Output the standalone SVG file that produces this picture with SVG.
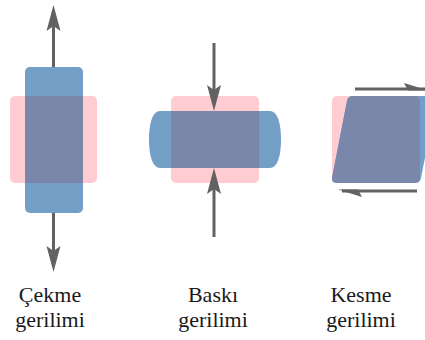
<svg xmlns="http://www.w3.org/2000/svg" width="425" height="340" viewBox="0 0 425 340">
  <style>
    .ref { fill: #FFCCD1; }
    .body { fill: #739EC6; }
    .both { fill: #7A86AA; }
    .shaft { stroke: #626262; stroke-width: 3; fill: none; }
    .head { fill: #626262; }
    .label { font-family: 'Liberation Serif', Tinos, 'Times New Roman', 'DejaVu Serif', serif; font-size: 22px; fill: #1a1a1a; text-anchor: middle; }
  </style>
  <defs>
    <clipPath id="clipA"><rect x="10" y="96" width="87" height="87" rx="5"/></clipPath>
    <clipPath id="clipB"><rect x="171" y="96" width="88" height="87" rx="5"/></clipPath>
    <clipPath id="clipC"><rect x="332" y="96" width="88" height="87" rx="5"/></clipPath>
  </defs>
  <rect width="425" height="340" fill="#ffffff"/>

  <!-- tension: stretched body over the undeformed square -->
  <g id="tension">
    <rect class="ref" x="10" y="96" width="87" height="87" rx="5"/>
    <rect class="body" x="25" y="67" width="58" height="146" rx="5"/>
    <rect class="both" x="25" y="67" width="58" height="146" rx="5" clip-path="url(#clipA)"/>
    <text class="label" x="50" y="302" font-family="Liberation Serif, serif">Çekme</text>
    <text class="label" x="50" y="327" font-family="Liberation Serif, serif">gerilimi</text>
  </g>

  <!-- compression: squashed, bulging body -->
  <g id="compression">
    <rect class="ref" x="171" y="96" width="88" height="87" rx="5"/>
    <path class="body" d="M160,111 H270 C278,111 281,125 281,139.5 C281,154 278,168 270,168 H160 C152,168 149,154 149,139.5 C149,125 152,111 160,111 Z"/>
    <path class="both" clip-path="url(#clipB)" d="M160,111 H270 C278,111 281,125 281,139.5 C281,154 278,168 270,168 H160 C152,168 149,154 149,139.5 C149,125 152,111 160,111 Z"/>
    <text class="label" x="213" y="302" font-family="Liberation Serif, serif">Baskı</text>
    <text class="label" x="213" y="327" font-family="Liberation Serif, serif">gerilimi</text>
  </g>

  <!-- shear: body skewed into a parallelogram -->
  <g id="shear">
    <rect class="ref" x="332" y="96" width="88" height="87" rx="5"/>
    <path class="body" d="M353,96 H431 Q437,96 436,101 L421,178 Q420,183 415,183 H337 Q331,183 332,178 L347,101 Q348,96 353,96 Z"/>
    <path class="both" clip-path="url(#clipC)" d="M353,96 H431 Q437,96 436,101 L421,178 Q420,183 415,183 H337 Q331,183 332,178 L347,101 Q348,96 353,96 Z"/>
    <text class="label" x="361" y="302" font-family="Liberation Serif, serif">Kesme</text>
    <text class="label" x="361" y="327" font-family="Liberation Serif, serif">gerilimi</text>
  </g>

  <g id="connectors">
    <!-- tension: pulling outward -->
    <line class="shaft" x1="53.5" y1="67" x2="53.5" y2="26"/>
    <path class="head" d="M53.5,5 L60.5,31 L53.5,26 L46.5,31 Z"/>
    <line class="shaft" x1="53.5" y1="213" x2="53.5" y2="251"/>
    <path class="head" d="M53.5,272 L60.5,246 L53.5,251 L46.5,246 Z"/>
    <!-- compression: pushing inward -->
    <line class="shaft" x1="214" y1="43" x2="214" y2="90"/>
    <path class="head" d="M214,111 L221,85 L214,90 L207,85 Z"/>
    <line class="shaft" x1="214" y1="237" x2="214" y2="189"/>
    <path class="head" d="M214,168 L221,194 L214,189 L207,194 Z"/>
    <!-- shear: opposing half-arrows -->
    <line class="shaft" x1="355" y1="89" x2="430" y2="89"/>
    <path class="head" d="M428,90.5 L404,83 L408,90.5 Z"/>
    <line class="shaft" x1="417" y1="191" x2="342" y2="191"/>
    <path class="head" d="M338,189.5 L362,197 L358,189.5 Z"/>
  </g>
</svg>
